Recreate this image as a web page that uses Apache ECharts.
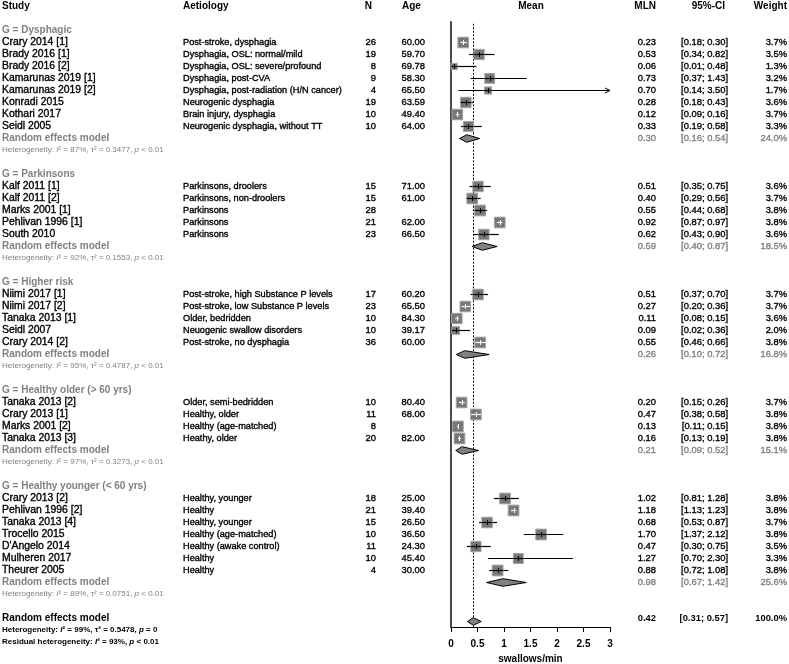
<!DOCTYPE html>
<html><head><meta charset="utf-8">
<script src="https://cdn.jsdelivr.net/npm/echarts@6/dist/echarts.min.js"></script>
<style>html,body{margin:0;padding:0;background:#fff}#c{width:789px;height:664px}</style>
</head><body><div id="c"></div>
<script>
// ---------------- DATA ----------------
const groupNames = ['G = Dysphagic', 'G = Parkinsons', 'G = Higher risk', 'G = Healthy older (> 60 yrs)', 'G = Healthy younger (< 60 yrs)'];
const groupOf = [0,0,0,0,0,0,0,0, 1,1,1,1,1, 2,2,2,2,2, 3,3,3,3, 4,4,4,4,4,4,4];
const studies = ['Crary 2014 [1]','Brady 2016 [1]','Brady 2016 [2]','Kamarunas 2019 [1]','Kamarunas 2019 [2]','Konradi 2015','Kothari 2017','Seidl 2005',
  'Kalf 2011 [1]','Kalf 2011 [2]','Marks 2001 [1]','Pehlivan 1996 [1]','South 2010',
  'Niimi 2017 [1]','Niimi 2017 [2]','Tanaka 2013 [1]','Seidl 2007','Crary 2014 [2]',
  'Tanaka 2013 [2]','Crary 2013 [1]','Marks 2001 [2]','Tanaka 2013 [3]',
  'Crary 2013 [2]','Pehlivan 1996 [2]','Tanaka 2013 [4]','Trocello 2015',"D'Angelo 2014",'Mulheren 2017','Theurer 2005'];
const aetiology = ['Post-stroke, dysphagia','Dysphagia, OSL: normal/mild','Dysphagia, OSL: severe/profound','Dysphagia, post-CVA','Dysphagia, post-radiation (H/N cancer)','Neurogenic dysphagia','Brain injury, dysphagia','Neurogenic dysphagia, without TT',
  'Parkinsons, droolers','Parkinsons, non-droolers','Parkinsons','Parkinsons','Parkinsons',
  'Post-stroke, high Substance P levels','Post-stroke, low Substance P levels','Older, bedridden','Neuogenic swallow disorders','Post-stroke, no dysphagia',
  'Older, semi-bedridden','Healthy, older','Healthy (age-matched)','Heathy, older',
  'Healthy, younger','Healthy','Healthy, younger','Healthy (age-matched)','Healthy (awake control)','Healthy','Healthy'];
const nValues = [26,19,8,9,4,19,10,10, 15,15,28,21,23, 17,23,10,10,36, 10,11,8,20, 18,21,15,10,11,10,4];
const ageValues = [60.00,59.70,69.78,58.30,65.50,63.59,49.40,64.00, 71.00,61.00,null,62.00,66.50, 60.20,65.50,84.30,39.17,60.00, 80.40,68.00,null,82.00, 25.00,39.40,26.50,36.50,24.30,45.40,30.00];
const mln = [0.23,0.53,0.06,0.73,0.70,0.28,0.12,0.33, 0.51,0.40,0.55,0.92,0.62, 0.51,0.27,0.11,0.09,0.55, 0.20,0.47,0.13,0.16, 1.02,1.18,0.68,1.70,0.47,1.27,0.88];
const ciLower = [0.18,0.34,0.01,0.37,0.14,0.18,0.09,0.19, 0.35,0.29,0.44,0.87,0.43, 0.37,0.20,0.08,0.02,0.46, 0.15,0.38,0.11,0.13, 0.81,1.13,0.53,1.37,0.30,0.70,0.72];
const ciUpper = [0.30,0.82,0.48,1.43,3.50,0.43,0.16,0.58, 0.75,0.56,0.68,0.97,0.90, 0.70,0.36,0.15,0.36,0.66, 0.26,0.58,0.15,0.19, 1.28,1.23,0.87,2.12,0.75,2.30,1.08];
const weights = [3.7,3.5,1.3,3.2,1.7,3.6,3.7,3.3, 3.6,3.7,3.8,3.8,3.6, 3.7,3.7,3.6,2.0,3.8, 3.7,3.8,3.8,3.8, 3.8,3.8,3.7,3.8,3.5,3.3,3.8];
const groupMln = [0.30,0.59,0.26,0.21,0.98];
const groupLower = [0.16,0.40,0.10,0.09,0.67];
const groupUpper = [0.54,0.87,0.72,0.52,1.42];
const groupWeight = [24.0,18.5,16.8,15.1,25.6];
const groupI2 = [87,92,95,97,89];
const groupTau2 = ['0.3477','0.1553','0.4787','0.3273','0.0751'];
const overallMln = 0.42, overallLower = 0.31, overallUpper = 0.57, overallWeight = 100.0;
const overallI2 = 99, overallTau2 = '0.5478', residualI2 = 93;
const xTicks = [0,0.5,1,1.5,2,2.5,3];
const headers = ['Study','Aetiology','N','Age','Mean','MLN','95%-CI','Weight'];

// ---------------- LAYOUT ----------------
const FONT = '"Liberation Sans", Arial, sans-serif';
const GRAY = '#808080';
const COL = {study:2, aet:183, n:376, ageHead:402, age:425, mean:531, mln:656, ci:728, ciHead:725, wt:787};
const FS = {study:10.4, aet:9.2, num:9.4, head:10, het:8};
const X_MAX = xTicks[xTicks.length-1];

const textRows = [];   // {row, cells:[...]}
const studyPts = [];   // [mln,row,lo,hi,w]
const diamonds = [];   // [mln,row,lo,hi,overall]
function cell(text, x, align, weight, color, size, rich, heavy) {
  return {text, x, align, weight: weight || 'normal', color: color || '#000', size: size || 10, rich, heavy};
}
function fmt(v){ return v.toFixed(2); }
function ciText(l,u){ return '[' + fmt(l) + '; ' + fmt(u) + ']'; }

textRows.push({row:0, cells:[
  cell(headers[0], COL.study, 'left', 'bold', '#000', FS.head),
  cell(headers[1], COL.aet, 'left', 'bold', '#000', FS.head),
  cell(headers[2], COL.n - 4, 'right', 'bold', '#000', FS.head),
  cell(headers[3], COL.ageHead, 'left', 'bold', '#000', FS.head),
  cell(headers[4], COL.mean, 'center', 'bold', '#000', FS.head),
  cell(headers[5], COL.mln, 'right', 'bold', '#000', FS.head),
  cell(headers[6], COL.ciHead, 'right', 'bold', '#000', FS.head),
  cell(headers[7], COL.wt, 'right', 'bold', '#000', FS.head)
]});

let r = 2;
for (let g = 0; g < groupNames.length; g++) {
  textRows.push({row:r, cells:[cell(groupNames[g], COL.study, 'left', 'bold', GRAY, FS.head)]});
  r++;
  for (let i = 0; i < studies.length; i++) {
    if (groupOf[i] !== g) continue;
    textRows.push({row:r, cells:[
      cell(studies[i], COL.study, 'left', 'normal', '#000', FS.study, false, true),
      cell(aetiology[i], COL.aet, 'left', 'normal', '#000', FS.aet, false, true),
      cell(String(nValues[i]), COL.n, 'right', 'normal', '#000', FS.num, false, true),
      cell(ageValues[i] == null ? '' : ageValues[i].toFixed(2), COL.age, 'right', 'normal', '#000', FS.num, false, true),
      cell(fmt(mln[i]), COL.mln, 'right', 'normal', '#000', FS.num, false, true),
      cell(ciText(ciLower[i], ciUpper[i]), COL.ci, 'right', 'normal', '#000', FS.num, false, true),
      cell(weights[i].toFixed(1) + '%', COL.wt, 'right', 'normal', '#000', FS.num, false, true)
    ]});
    studyPts.push([mln[i], r, ciLower[i], ciUpper[i], weights[i]]);
    r++;
  }
  textRows.push({row:r, cells:[
    cell('Random effects model', COL.study, 'left', 'bold', GRAY, FS.head),
    cell(fmt(groupMln[g]), COL.mln, 'right', 'normal', GRAY, FS.num, false, true),
    cell(ciText(groupLower[g], groupUpper[g]), COL.ci, 'right', 'normal', GRAY, FS.num, false, true),
    cell(groupWeight[g].toFixed(1) + '%', COL.wt, 'right', 'normal', GRAY, FS.num, false, true)
  ]});
  diamonds.push([groupMln[g], r, groupLower[g], groupUpper[g], 0]);
  r++;
  textRows.push({row:r, cells:[
    cell('Heterogeneity: {it|I}\u00B2 = ' + groupI2[g] + '%, \u03C4\u00B2 = ' + groupTau2[g] + ', {it|p} < 0.01', COL.study, 'left', 'normal', GRAY, FS.het, true)
  ]});
  r += 2;
}
textRows.push({row:r, cells:[
  cell('Random effects model', COL.study, 'left', 'bold', '#000', FS.head),
  cell(fmt(overallMln), COL.mln, 'right', 'bold', '#000', FS.num),
  cell(ciText(overallLower, overallUpper), COL.ci, 'right', 'bold', '#000', FS.num),
  cell(overallWeight.toFixed(1) + '%', COL.wt, 'right', 'bold', '#000', FS.num)
]});
diamonds.push([overallMln, r, overallLower, overallUpper, 1]);
textRows.push({row:r+1, cells:[
  cell('Heterogeneity: {it|I}\u00B2 = ' + overallI2 + '%, \u03C4\u00B2 = ' + overallTau2 + ', {it|p} = 0', COL.study, 'left', 'bold', '#000', FS.het, true)
]});
textRows.push({row:r+2, cells:[
  cell('Residual heterogeneity: {it|I}\u00B2 = ' + residualI2 + '%, {it|p} < 0.01', COL.study, 'left', 'bold', '#000', FS.het, true)
]});

// rows map to y = 6 + 12*row ; grid from y=22 to y=627
const ROW_TOP = (22 - 6) / 12;
const ROW_BOTTOM = (627 - 6) / 12;

const chart = echarts.init(document.getElementById('c'), null, {renderer:'canvas'});

function renderText(params, api) {
  const tr = textRows[api.value(2)];
  const y = api.coord([0, api.value(1)])[1];
  return {type:'group', children: tr.cells.map(c => {
    const st = {
      text: c.text, x: c.x, y: y, align: c.align, verticalAlign: 'middle',
      fontFamily: FONT, fontSize: c.size, fontWeight: c.weight, fill: c.color
    };
    if (c.heavy) { st.stroke = c.color; st.lineWidth = 0.35; }
    if (c.rich) st.rich = {it: {fontStyle:'italic', fontFamily: FONT, fontSize: c.size, fontWeight: c.weight, fill: c.color}};
    return {type:'text', style: st, silent: true};
  })};
}

function renderStudy(params, api) {
  const m = api.value(0), row = api.value(1), lo = api.value(2), hi = api.value(3), w = api.value(4);
  const pm = api.coord([m, row]);
  const pl = api.coord([lo, row]);
  const ph = api.coord([Math.min(hi, X_MAX), row]);
  const y = pm[1] + 0.5;
  const side = 5.5 * Math.sqrt(w);
  const ch = [];
  ch.push({type:'line', shape:{x1:pl[0], y1:y, x2:ph[0], y2:y}, style:{stroke:'#000', lineWidth:1.2}});
  if (hi > X_MAX) {
    ch.push({type:'polyline', shape:{points:[[ph[0]-5, y-2.5],[ph[0], y],[ph[0]-5, y+2.5]]}, style:{stroke:'#000', lineWidth:1, fill:null}});
  }
  ch.push({type:'rect', shape:{x:pm[0]-side/2, y:pm[1]+0.5-side/2, width:side, height:side}, style:{fill:'#777777', stroke:'#a3a3a3', lineWidth:1}});
  const inside = (ph[0] - pl[0]) < side;
  const c = inside ? '#fff' : '#000';
  const x1 = Math.max(pl[0], pm[0]-side/2), x2 = Math.min(ph[0], pm[0]+side/2);
  ch.push({type:'line', shape:{x1:x1, y1:y, x2:x2, y2:y}, style:{stroke:c, lineWidth:1.2}});
  ch.push({type:'line', shape:{x1:Math.round(pm[0])+0.5, y1:y-2.5, x2:Math.round(pm[0])+0.5, y2:y+2.5}, style:{stroke:c, lineWidth:1}});
  return {type:'group', children:ch};
}

function renderDiamond(params, api) {
  const m = api.value(0), row = api.value(1), lo = api.value(2), hi = api.value(3), ov = api.value(4);
  const pm = api.coord([m, row]);
  const pl = api.coord([lo, row]);
  const ph = api.coord([hi, row]);
  const y = pm[1] + 0.5 + (ov ? 3 : 0);
  const h = 3.8;
  return {type:'polygon', shape:{points:[[pl[0], y],[pm[0], y-h],[ph[0], y],[pm[0], y+h]]},
    style:{fill:'#808080', stroke:'#000', lineWidth:1}};
}

function renderRef(params, api) {
  const x = api.value(0);
  const top = api.coord([x, ROW_TOP + 0.15]);
  const bot = api.coord([x, ROW_BOTTOM]);
  const px = Math.round(top[0]) + 0.5;
  return {type:'line', shape:{x1:px, y1:top[1], x2:px, y2:bot[1]}, style:{stroke:'#000', lineWidth:1, lineDash:[2,1.5]}};
}

chart.setOption({
  animation: false,
  backgroundColor: '#fff',
  grid: {left: 451, width: 159, top: 22, height: 605, containLabel: false, outerBoundsMode: 'none'},
  xAxis: {
    type: 'value', min: xTicks[0], max: X_MAX, interval: 0.5,
    axisLine: {show: true, lineStyle: {color: '#000', width: 1}},
    axisTick: {show: true, length: 5, lineStyle: {color: '#000'}},
    axisLabel: {fontFamily: FONT, fontSize: 10, fontWeight: 'bold', color: '#000', margin: 12,
      formatter: v => String(v)},
    splitLine: {show: false},
    name: 'swallows/min', nameLocation: 'middle', nameGap: 27,
    nameTextStyle: {fontFamily: FONT, fontSize: 10, fontWeight: 'bold', color: '#000'}
  },
  yAxis: {
    type: 'value', inverse: true, min: ROW_TOP, max: ROW_BOTTOM,
    axisLine: {show: true, lineStyle: {color: '#4a4a4a', width: 2}},
    axisTick: {show: false}, axisLabel: {show: false}, splitLine: {show: false}
  },
  series: [
    {type: 'custom', renderItem: renderRef, data: [[overallMln, 0]], clip: false, z: 1, silent: true},
    {type: 'custom', renderItem: renderStudy, data: studyPts, clip: false, z: 3, silent: true},
    {type: 'custom', renderItem: renderDiamond, data: diamonds, clip: false, z: 3, silent: true},
    {type: 'custom', renderItem: renderText, data: textRows.map((t, i) => [0, t.row, i]), clip: false, z: 4, silent: true}
  ]
});
</script>
</body></html>
